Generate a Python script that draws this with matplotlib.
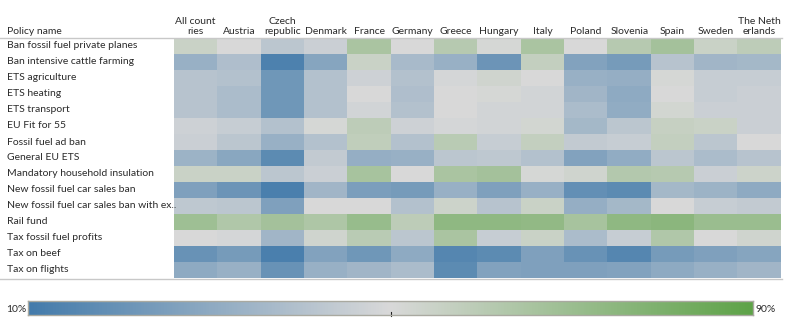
import numpy as np
import matplotlib
matplotlib.use("Agg")
import matplotlib.pyplot as plt
from matplotlib.colors import LinearSegmentedColormap
from matplotlib.lines import Line2D

plt.rcParams['font.family'] = ['Lato', 'DejaVu Sans']

countries = ["All count\nries", "Austria", "Czech\nrepublic", "Denmark", "France", "Germany",
             "Greece", "Hungary", "Italy", "Poland", "Slovenia", "Spain", "Sweden", "The Neth\nerlands"]

policies = ["Ban fossil fuel private planes", "Ban intensive cattle farming", "ETS agriculture",
            "ETS heating", "ETS transport", "EU Fit for 55", "Fossil fuel ad ban", "General EU ETS",
            "Mandatory household insulation", "New fossil fuel car sales ban",
            "New fossil fuel car sales ban with ex..", "Rail fund", "Tax fossil fuel profits",
            "Tax on beef", "Tax on flights"]

# support (%) per policy row, columns in the order of `countries`
ban_private_planes   = [55, 50, 42, 46, 65, 50, 61, 51, 65, 50, 61, 67, 55, 59]
ban_cattle_farming   = [33, 39, 13, 28, 55, 37, 33, 21, 57, 27, 24, 41, 35, 36]
ets_agriculture      = [41, 40, 22, 40, 47, 40, 49, 53, 50, 33, 32, 51, 45, 45]
ets_heating          = [41, 38, 22, 40, 50, 39, 50, 51, 48, 35, 30, 50, 45, 46]
ets_transport        = [41, 38, 22, 40, 48, 40, 50, 48, 48, 38, 31, 52, 46, 46]
eu_fit_for_55        = [47, 45, 40, 51, 59, 47, 49, 48, 52, 36, 42, 56, 55, 46]
fossil_ad_ban        = [46, 42, 33, 40, 58, 40, 60, 45, 57, 44, 45, 57, 42, 50]
general_eu_ets       = [34, 29, 17, 44, 32, 33, 42, 43, 40, 27, 31, 42, 38, 41]
household_insulation = [55, 55, 42, 46, 66, 50, 65, 67, 51, 53, 62, 61, 46, 54]
car_sales_ban        = [26, 21, 12, 35, 25, 24, 33, 26, 33, 19, 17, 36, 34, 30]
car_sales_ban_ex     = [43, 42, 26, 50, 50, 40, 54, 41, 55, 32, 36, 50, 45, 44]
rail_fund            = [69, 63, 67, 64, 71, 59, 74, 74, 73, 66, 74, 75, 70, 70]
tax_fossil_profits   = [50, 49, 35, 53, 60, 42, 65, 45, 55, 38, 45, 63, 50, 53]
tax_beef             = [20, 24, 12, 27, 22, 30, 15, 17, 26, 20, 15, 24, 26, 28]
tax_flights          = [30, 33, 20, 33, 35, 38, 17, 27, 26, 26, 27, 30, 33, 35]

values = np.array([ban_private_planes, ban_cattle_farming, ets_agriculture, ets_heating,
                   ets_transport, eu_fit_for_55, fossil_ad_ban, general_eu_ets,
                   household_insulation, car_sales_ban, car_sales_ban_ex, rail_fund,
                   tax_fossil_profits, tax_beef, tax_flights], dtype=float)

legend_min, legend_max = 10, 90
legend_labels = ["10%", "90%"]

cmap = LinearSegmentedColormap.from_list(
    "gb", [(0.0, "#437bab"), (0.5, "#d9d9d9"), (1.0, "#5ea348")])

W, H = 788, 325
fig = plt.figure(figsize=(W / 100, H / 100), dpi=100)
TXT = "#2b2b2b"

def fx(px):
    return px / W

def fy(py):
    return 1 - py / H

# heatmap
x0, x1, y0, y1 = 174, 781, 38, 278
ax = fig.add_axes([fx(x0), fy(y1), fx(x1 - x0), (y1 - y0) / H])
ax.imshow(values, cmap=cmap, vmin=legend_min, vmax=legend_max, aspect="auto",
          interpolation="nearest")
ax.set_axis_off()

fs = 7.5
nrows = len(policies)
rh = (y1 - y0) / nrows
for i, p in enumerate(policies):
    fig.text(fx(7), fy(y0 + rh * i + rh / 2), p, ha="left", va="center",
             fontsize=fs, color=TXT)

cw = (x1 - x0) / len(countries)
for j, c in enumerate(countries):
    fig.text(fx(x0 + cw * j + cw / 2), fy(34), c, ha="center", va="baseline",
             fontsize=fs, color=TXT, linespacing=1.2)
fig.text(fx(7), fy(34), "Policy name", ha="left", va="baseline", fontsize=fs, color=TXT)

# header / footer rules
fig.add_artist(Line2D([0, fx(782)], [fy(38), fy(38)], color="#c8c8c8", lw=1))
fig.add_artist(Line2D([0, fx(782)], [fy(278.5), fy(278.5)], color="#c8c8c8", lw=1))

# colour legend
cb_x0, cb_x1, cb_y0, cb_y1 = 28, 753, 301, 315
cax = fig.add_axes([fx(cb_x0), fy(cb_y1), fx(cb_x1 - cb_x0), (cb_y1 - cb_y0) / H])
grad = np.linspace(legend_min, legend_max, 512)[None, :]
cax.imshow(grad, cmap=cmap, vmin=legend_min, vmax=legend_max, aspect="auto",
           extent=[legend_min, legend_max, 0, 1])
cax.set_xticks([])
cax.set_yticks([])
for s in cax.spines.values():
    s.set_color("#a9a9a0")
    s.set_linewidth(1)
mid = (legend_min + legend_max) / 2
cax.plot([mid, mid], [-0.1, 0.25], color="#222222", lw=0.8, clip_on=False)
cax.set_xlim(legend_min, legend_max)
cax.set_ylim(0, 1)
fig.text(fx(26), fy(309), legend_labels[0], ha="right", va="center", fontsize=fs, color=TXT)
fig.text(fx(756), fy(309), legend_labels[1], ha="left", va="center", fontsize=fs, color=TXT)

fig.savefig("out.png", dpi=100)
